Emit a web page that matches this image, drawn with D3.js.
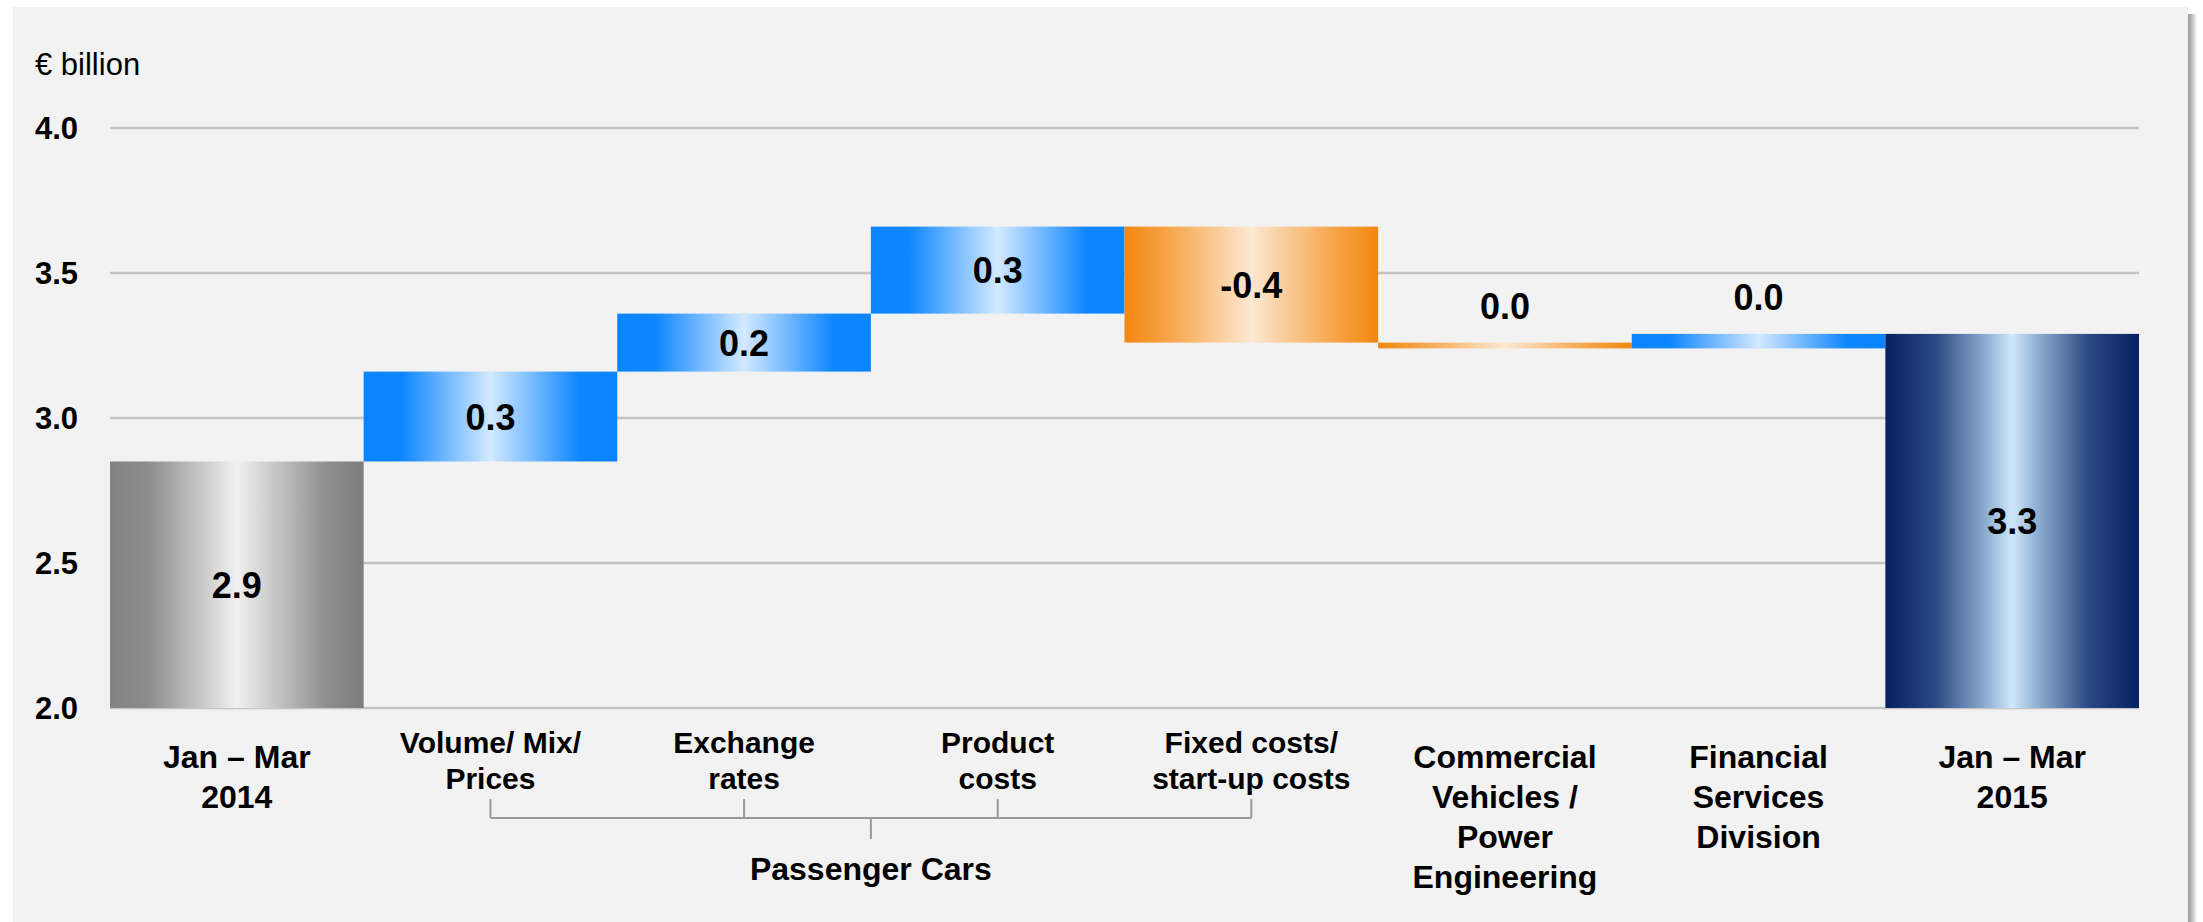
<!DOCTYPE html>
<html>
<head>
<meta charset="utf-8">
<script src="https://cdn.jsdelivr.net/npm/d3@7"></script>
<style>
  html, body { margin: 0; padding: 0; background: #ffffff; }
  svg { display: block; }
  text { font-family: "Liberation Sans", Arial, sans-serif; fill: #000; }
</style>
</head>
<body>
<svg id="chart" width="2203" height="922"></svg>
<script>
// ---- data ----
const categories = [
  "Jan – Mar 2014",
  "Volume/ Mix/ Prices",
  "Exchange rates",
  "Product costs",
  "Fixed costs/ start-up costs",
  "Commercial Vehicles / Power Engineering",
  "Financial Services Division",
  "Jan – Mar 2015"
];
const categoryLines = [
  ["Jan – Mar", "2014"],
  ["Volume/ Mix/", "Prices"],
  ["Exchange", "rates"],
  ["Product", "costs"],
  ["Fixed costs/", "start-up costs"],
  ["Commercial", "Vehicles /", "Power", "Engineering"],
  ["Financial", "Services", "Division"],
  ["Jan – Mar", "2015"]
];
const startValue = 2.85;
const deltas = [0.31, 0.20, 0.30, -0.40, -0.02, 0.05];
const endValue = 3.29;
const valueLabels = ["2.9", "0.3", "0.2", "0.3", "-0.4", "0.0", "0.0", "3.3"];
const yTicks = [2.0, 2.5, 3.0, 3.5, 4.0];
const yTickLabels = ["2.0", "2.5", "3.0", "3.5", "4.0"];
const groupLabel = "Passenger Cars";
const groupMembers = [1, 2, 3, 4];
const unitLabel = "€ billion";

// ---- build waterfall rows ----
const rows = [];
rows.push({cat: categories[0], lo: 2.0, hi: startValue, kind: "start"});
let running = startValue;
deltas.forEach((d, i) => {
  const a = running, b = running + d;
  rows.push({cat: categories[i + 1], lo: Math.min(a, b), hi: Math.max(a, b), kind: d >= 0 ? "up" : "down"});
  running = b;
});
rows.push({cat: categories[7], lo: 2.0, hi: endValue, kind: "end"});

// ---- scales ----
const svg = d3.select("#chart");
const x = d3.scaleBand().domain(categories).range([110, 2139]).padding(0);
const y = d3.scaleLinear().domain([2, 4]).range([708, 128]);

// ---- defs ----
const defs = svg.append("defs");
function grad(id, edgeL, mid1, center, mid2, edgeR) {
  const g = defs.append("linearGradient").attr("id", id).attr("x1", "0%").attr("x2", "100%").attr("y1", "0%").attr("y2", "0%");
  [[0, edgeL], [0.15, mid1], [0.5, center], [0.85, mid2], [1, edgeR]].forEach(([o, c]) =>
    g.append("stop").attr("offset", o).attr("stop-color", c));
}
grad("g-start", "#838383", "#8c8c8c", "#f1f1f1", "#8f8f8f", "#7c7c7c");
grad("g-up", "#0a84ff", "#0e86ff", "#d3e9ff", "#0e86ff", "#0a84ff");
grad("g-down", "#f3870f", "#f5a040", "#fde8d2", "#f5a040", "#f3870f");
const gn = defs.append("linearGradient").attr("id", "g-end").attr("x1", "0%").attr("x2", "100%");
[[0, "#05215f"], [0.2, "#2a4a84"], [0.4, "#8fb0d2"], [0.5, "#d0e8fc"], [0.6, "#8fb0d2"], [0.8, "#2a4a84"], [1, "#05215f"]]
  .forEach(([o, c]) => gn.append("stop").attr("offset", o).attr("stop-color", c));
const sh = defs.append("linearGradient").attr("id", "g-shadow").attr("x1", "0%").attr("x2", "100%");
[[0, "#9a9a9a"], [0.4, "#b8b8b8"], [1, "#ffffff"]].forEach(([o, c]) => sh.append("stop").attr("offset", o).attr("stop-color", c));

// ---- frame ----
svg.append("rect").attr("x", 2188).attr("y", 14).attr("width", 9).attr("height", 908).attr("fill", "url(#g-shadow)");
svg.append("rect").attr("x", 13).attr("y", 7).attr("width", 2175).attr("height", 915).attr("fill", "#f2f2f2");

// ---- grid ----
svg.append("g").selectAll("line").data(yTicks).join("line")
  .attr("x1", x.range()[0]).attr("x2", x.range()[1])
  .attr("y1", d => y(d)).attr("y2", d => y(d))
  .attr("stroke", "#c3c3c3").attr("stroke-width", 2.5);

// y tick labels
svg.append("g").selectAll("text").data(yTicks).join("text")
  .attr("x", 35).attr("y", d => y(d) + 11)
  .attr("font-size", 31).attr("font-weight", "bold")
  .text((d, i) => yTickLabels[i]);

svg.append("text").attr("x", 35).attr("y", 75).attr("font-size", 31).text(unitLabel);

// ---- bars ----
svg.append("g").selectAll("rect").data(rows).join("rect")
  .attr("x", d => x(d.cat)).attr("width", x.bandwidth())
  .attr("y", d => y(d.hi)).attr("height", d => y(d.lo) - y(d.hi))
  .attr("fill", d => `url(#g-${d.kind})`);

// value labels
svg.append("g").selectAll("text").data(rows).join("text")
  .attr("x", d => x(d.cat) + x.bandwidth() / 2)
  .attr("y", d => {
    const h = y(d.lo) - y(d.hi);
    return h > 50 ? (y(d.hi) + y(d.lo)) / 2 + 13 : y(d.hi) - 24;
  })
  .attr("text-anchor", "middle").attr("font-size", 36).attr("font-weight", "bold")
  .text((d, i) => valueLabels[i]);

// ---- category labels ----
const catG = svg.append("g");
categories.forEach((c, i) => {
  const inGroup = groupMembers.includes(i);
  const fs = inGroup ? 30 : 32;
  const lh = inGroup ? 36 : 40;
  const base = inGroup ? 753 : 768;
  const t = catG.append("text").attr("text-anchor", "middle").attr("font-size", fs).attr("font-weight", "bold");
  categoryLines[i].forEach((ln, j) => {
    t.append("tspan").attr("x", x(c) + x.bandwidth() / 2).attr("y", base + j * lh).text(ln);
  });
});

// ---- group bracket ----
const gx = groupMembers.map(i => x(categories[i]) + x.bandwidth() / 2);
const br = svg.append("g").attr("stroke", "#999999").attr("stroke-width", 2).attr("fill", "none");
gx.forEach(cx => br.append("line").attr("x1", cx).attr("x2", cx).attr("y1", 799).attr("y2", 818));
br.append("line").attr("x1", d3.min(gx)).attr("x2", d3.max(gx)).attr("y1", 818).attr("y2", 818);
const mid = (d3.min(gx) + d3.max(gx)) / 2;
br.append("line").attr("x1", mid).attr("x2", mid).attr("y1", 818).attr("y2", 839);
svg.append("text").attr("x", mid).attr("y", 880).attr("text-anchor", "middle")
  .attr("font-size", 32).attr("font-weight", "bold").text(groupLabel);
</script>
</body>
</html>
